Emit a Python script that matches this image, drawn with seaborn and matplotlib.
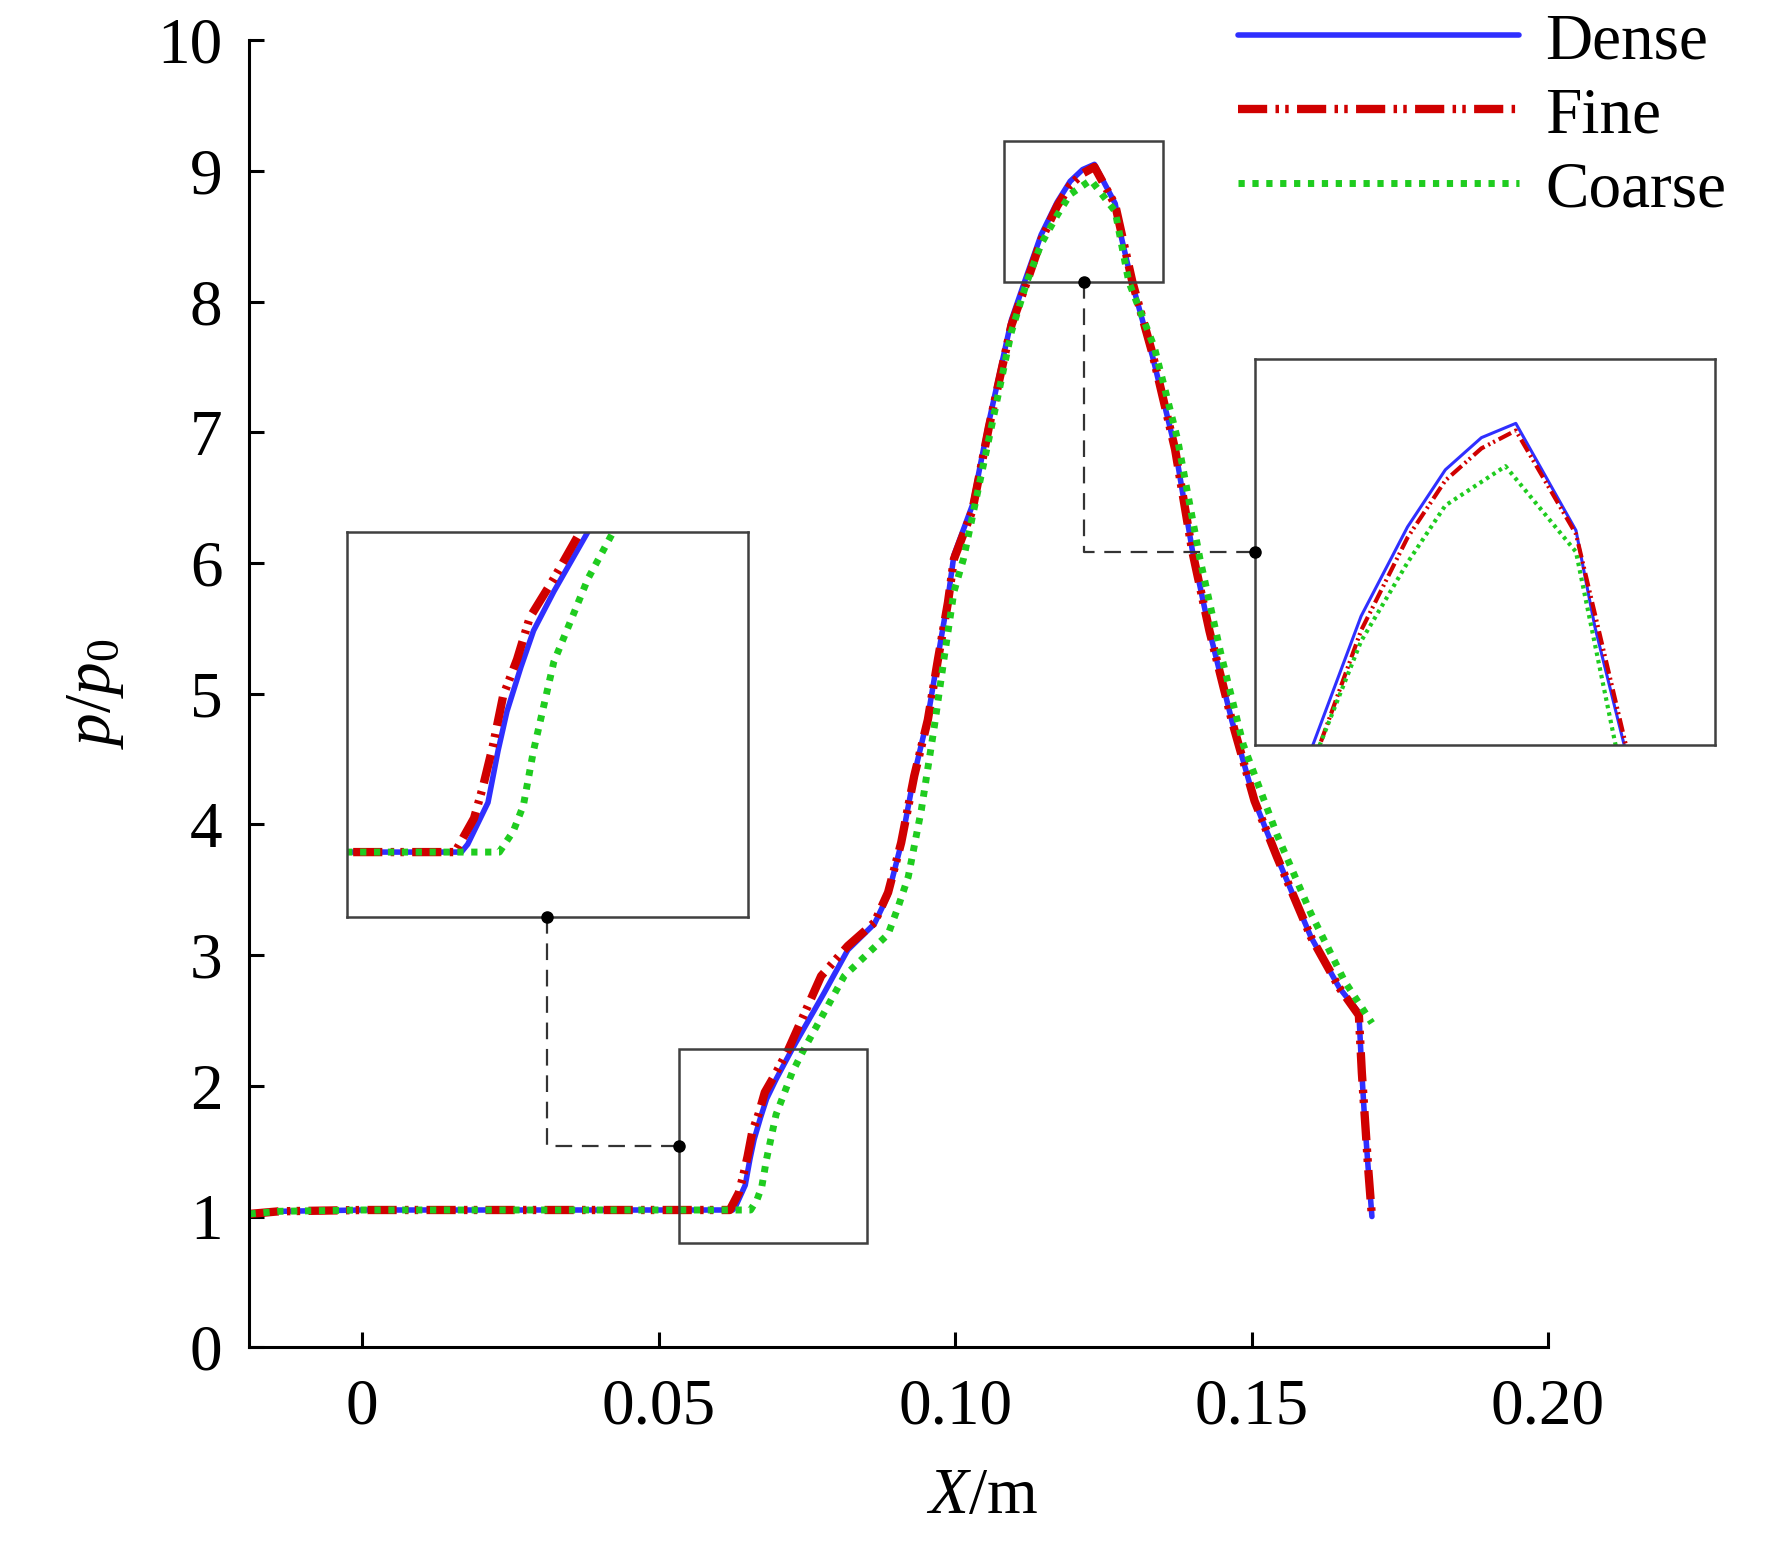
import matplotlib
matplotlib.use("Agg")
import matplotlib.pyplot as plt
from matplotlib.patches import Rectangle
import pandas as pd
import seaborn as sns

# wall pressure ratio p/p0 vs X (m), three meshes
dense_x = [-0.0190, -0.0140, 0.0000, 0.0300, 0.0625, 0.0630, 0.0646, 0.0654, 0.0661, 0.0672,
           0.0682, 0.0698, 0.0725, 0.0779, 0.0819, 0.0864, 0.0887, 0.0909, 0.0931, 0.0954,
           0.0971, 0.0988, 0.0998, 0.1029, 0.1057, 0.1095, 0.1117, 0.1145, 0.1172, 0.1194,
           0.1215, 0.1235, 0.1270, 0.1281, 0.1298, 0.1333, 0.1371, 0.1400, 0.1429, 0.1467,
           0.1505, 0.1543, 0.1600, 0.1648, 0.1681, 0.1686, 0.1691, 0.1697, 0.1703]
dense_y = [1.02, 1.04, 1.05, 1.05, 1.05, 1.08, 1.24, 1.44, 1.59, 1.76,
           1.90, 2.05, 2.28, 2.71, 3.04, 3.24, 3.46, 3.85, 4.38, 4.82,
           5.28, 5.73, 6.06, 6.44, 7.08, 7.86, 8.15, 8.51, 8.76, 8.92,
           9.01, 9.05, 8.75, 8.48, 8.15, 7.58, 6.88, 6.10, 5.48, 4.79,
           4.18, 3.75, 3.14, 2.75, 2.56, 2.10, 1.72, 1.35, 1.00]

fine_x = [-0.0190, -0.0140, 0.0000, 0.0300, 0.0620, 0.0635, 0.0642, 0.0650, 0.0658, 0.0669,
          0.0679, 0.0698, 0.0719, 0.0774, 0.0819, 0.0864, 0.0887, 0.0909, 0.0931, 0.0954,
          0.0971, 0.0988, 0.0998, 0.1029, 0.1057, 0.1095, 0.1121, 0.1145, 0.1172, 0.1194,
          0.1215, 0.1235, 0.1270, 0.1299, 0.1333, 0.1371, 0.1400, 0.1429, 0.1467, 0.1505,
          0.1543, 0.1600, 0.1648, 0.1681, 0.1686, 0.1691, 0.1697, 0.1703]
fine_y = [1.02, 1.04, 1.05, 1.05, 1.05, 1.18, 1.30, 1.46, 1.65, 1.79,
          1.95, 2.10, 2.28, 2.84, 3.07, 3.25, 3.48, 3.86, 4.37, 4.80,
          5.26, 5.70, 6.03, 6.40, 7.04, 7.82, 8.15, 8.47, 8.73, 8.89,
          8.98, 9.03, 8.74, 8.15, 7.60, 6.87, 6.09, 5.48, 4.79, 4.18,
          3.75, 3.14, 2.75, 2.54, 2.10, 1.76, 1.35, 1.00]

coarse_x = [-0.0190, -0.0140, 0.0000, 0.0300, 0.0655, 0.0666, 0.0674, 0.0682, 0.0690, 0.0698,
            0.0709, 0.0725, 0.0745, 0.0813, 0.0887, 0.0904, 0.0921, 0.0943, 0.0965, 0.0981,
            0.0998, 0.1014, 0.1057, 0.1095, 0.1121, 0.1145, 0.1172, 0.1194, 0.1229, 0.1270,
            0.1293, 0.1336, 0.1375, 0.1413, 0.1448, 0.1486, 0.1543, 0.1600, 0.1657, 0.1703]
coarse_y = [1.02, 1.04, 1.05, 1.05, 1.05, 1.13, 1.23, 1.44, 1.61, 1.78,
            1.91, 2.10, 2.28, 2.84, 3.16, 3.37, 3.60, 4.11, 4.75, 5.26,
            5.78, 6.03, 6.95, 7.77, 8.15, 8.44, 8.66, 8.82, 8.93, 8.69,
            8.15, 7.65, 6.95, 6.03, 5.31, 4.61, 3.92, 3.32, 2.80, 2.48]

mesh_names = ["Dense", "Fine", "Coarse"]

# zoomed windows (data units) and where their magnified panels sit
zoom_low_x = [0.0535, 0.0851]
zoom_low_y = [0.80, 2.28]
zoom_peak_x = [0.1083, 0.1351]
zoom_peak_y = [8.15, 9.23]
panel_low_x = [-0.0025, 0.0650]
panel_low_y = [3.29, 6.24]
panel_peak_x = [0.1505, 0.2282]
panel_peak_y = [4.61, 7.56]

x_ticks = [0, 0.05, 0.10, 0.15, 0.20]
x_tick_labels = ["0", "0.05", "0.10", "0.15", "0.20"]
y_ticks = [0, 1, 2, 3, 4, 5, 6, 7, 8, 9, 10]

df = pd.concat([
    pd.DataFrame({"x": dense_x, "y": dense_y, "mesh": "Dense"}),
    pd.DataFrame({"x": fine_x, "y": fine_y, "mesh": "Fine"}),
    pd.DataFrame({"x": coarse_x, "y": coarse_y, "mesh": "Coarse"}),
], ignore_index=True)

sns.set_style("ticks")
plt.rcParams["font.family"] = ["Liberation Serif", "DejaVu Serif"]
plt.rcParams["mathtext.fontset"] = "custom"
plt.rcParams["mathtext.rm"] = "Liberation Serif"
plt.rcParams["mathtext.it"] = "Liberation Serif:italic"
plt.rcParams["lines.scale_dashes"] = False
for key in ["text.color", "axes.labelcolor", "xtick.color", "ytick.color", "axes.edgecolor"]:
    plt.rcParams[key] = "black"

colors = {"Dense": "#2f2fff", "Fine": "#d00000", "Coarse": "#1fcc1f"}
big = {
    "Dense": dict(lw=4.0, ls="-"),
    "Fine": dict(lw=6.0, ls=(0, (21, 6, 2.5, 4.5, 2.5, 6))),
    "Coarse": dict(lw=5.0, ls=(0, (4.5, 5.5))),
}
thin = {
    "Dense": dict(lw=2.2, ls="-"),
    "Fine": dict(lw=3.0, ls=(0, (10, 3, 1.5, 2.5, 1.5, 3))),
    "Coarse": dict(lw=3.0, ls=(0, (2.5, 3))),
}


def draw_curves(a, sty):
    handles = []
    for name in mesh_names:
        sub = df[df["mesh"] == name]
        sns.lineplot(data=sub, x="x", y="y", ax=a, sort=False, estimator=None,
                     color=colors[name], linewidth=sty[name]["lw"],
                     linestyle=sty[name]["ls"], legend=False)
        handles.append(a.lines[-1])
    return handles


fig = plt.figure(figsize=(17.72, 15.45), dpi=100)
ax = fig.add_axes([0.1405, 0.128, 0.7331, 0.846])

handles = draw_curves(ax, big)

ax.set_xlim(-0.0191, 0.20)
ax.set_ylim(0, 10)
ax.set_xticks(x_ticks)
ax.set_xticklabels(x_tick_labels)
ax.set_yticks(y_ticks)
sns.despine(ax=ax)
for s in ["left", "bottom"]:
    ax.spines[s].set_linewidth(2.2)
ax.tick_params(direction="in", length=11, width=2.2, labelsize=47)
ax.tick_params(axis="x", pad=22)
ax.tick_params(axis="y", pad=19)
ax.set_xlabel(r"$X$/m", fontsize=47)
ax.set_ylabel(r"$p/p_0$", fontsize=47)
ax.xaxis.set_label_coords(0.564, -0.092)
ax.yaxis.set_label_coords(-0.095, 0.5)

# boxes marking the zoomed windows
edge = "#404040"
for zx, zy in [(zoom_low_x, zoom_low_y), (zoom_peak_x, zoom_peak_y)]:
    ax.add_patch(Rectangle((zx[0], zy[0]), zx[1] - zx[0], zy[1] - zy[0],
                           fill=False, ec=edge, lw=1.8, zorder=5))

# magnified panels
for px, py, zx, zy, sty in [(panel_low_x, panel_low_y, zoom_low_x, zoom_low_y, big),
                            (panel_peak_x, panel_peak_y, zoom_peak_x, zoom_peak_y, thin)]:
    ins = ax.inset_axes([px[0], py[0], px[1] - px[0], py[1] - py[0]], transform=ax.transData)
    draw_curves(ins, sty)
    ins.set_xlim(zx)
    ins.set_ylim(zy)
    ins.set_xticks([])
    ins.set_yticks([])
    ins.set(xlabel="", ylabel="")
    for s in ins.spines.values():
        s.set_visible(True)
        s.set_edgecolor(edge)
        s.set_linewidth(1.8)

# dashed leader lines: panel bottom-centre -> window left edge (low), window bottom-centre -> panel left edge (peak)
lx = (panel_low_x[0] + panel_low_x[1]) / 2
ly = (zoom_low_y[0] + zoom_low_y[1]) / 2
ax.plot([lx, lx, zoom_low_x[0]], [panel_low_y[0], ly, ly], color="#333333", lw=1.6,
        ls=(0, (12, 7)), clip_on=False, zorder=6)
ax.plot([lx, zoom_low_x[0]], [panel_low_y[0], ly], "o", color="black", ms=8, clip_on=False, zorder=7)

rx = (zoom_peak_x[0] + zoom_peak_x[1]) / 2
ry = (panel_peak_y[0] + panel_peak_y[1]) / 2
ax.plot([rx, rx, panel_peak_x[0]], [zoom_peak_y[0], ry, ry], color="#333333", lw=1.6,
        ls=(0, (12, 7)), clip_on=False, zorder=6)
ax.plot([rx, panel_peak_x[0]], [zoom_peak_y[0], ry], "o", color="black", ms=8, clip_on=False, zorder=7)

fig.legend(handles, mesh_names, loc="upper right", bbox_to_anchor=(0.974, 0.992),
           frameon=False, fontsize=47, handlelength=4.3, handletextpad=0.4,
           labelspacing=0.22, borderpad=0.0, borderaxespad=0.0)

fig.savefig("out.png", dpi=100)
